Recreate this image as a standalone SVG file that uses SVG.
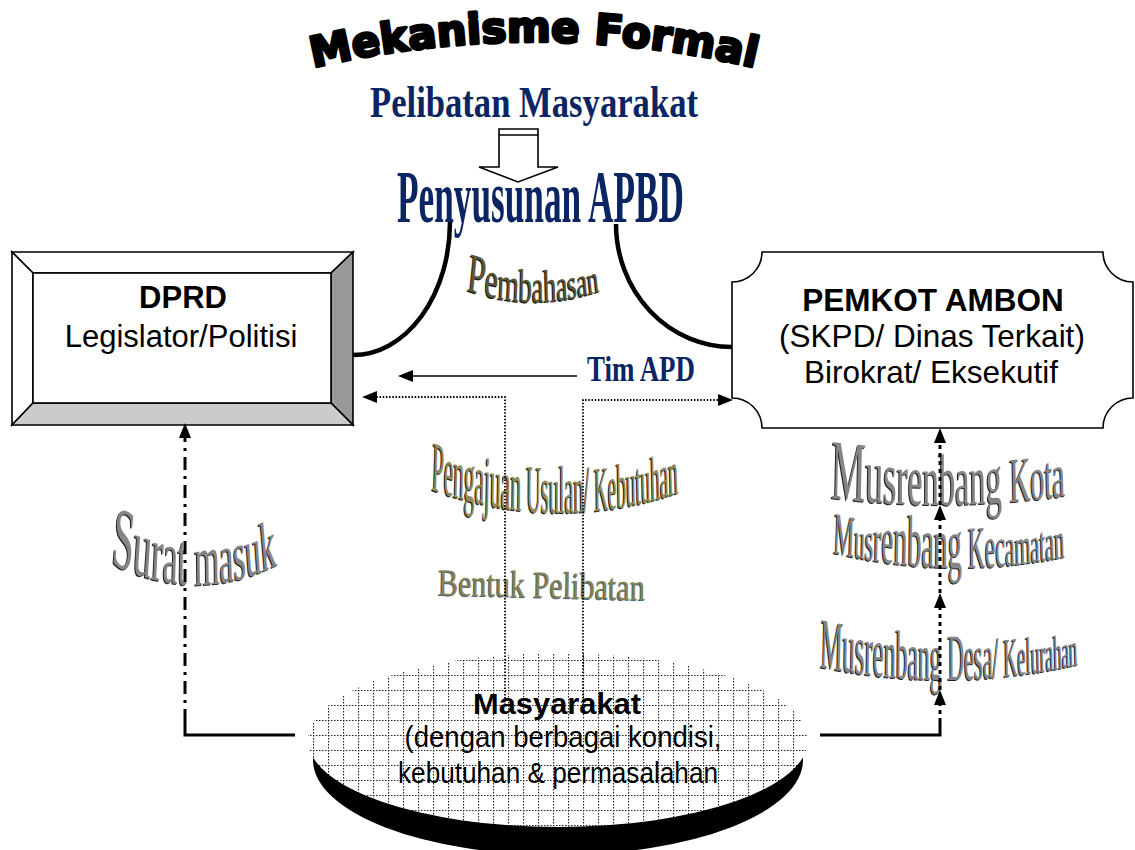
<svg xmlns="http://www.w3.org/2000/svg" width="1135" height="850" viewBox="0 0 1135 850">
  <style>
    .sans{font-family:"Liberation Sans",Arial,sans-serif;fill:#000}
    .navy{font-family:"Liberation Serif","Times New Roman",serif;font-weight:bold;fill:#0b2563}
    .wa{font-family:"Liberation Serif","Times New Roman",serif}
    .title{font-family:"DejaVu Sans",sans-serif;font-weight:bold;font-size:42px;fill:#000;stroke:#000;stroke-width:3;stroke-linejoin:round}
    .edge{stroke:#000;stroke-width:1.6;stroke-linejoin:miter}
    .thin{fill:none;stroke:#000;stroke-width:1.6}
    .dot{fill:none;stroke:#000;stroke-width:1.8;stroke-dasharray:1.5 1.7}
    .heavy{fill:none;stroke:#000;stroke-width:4.5}
    .solid3{fill:none;stroke:#000;stroke-width:3}
    .dashdot{fill:none;stroke:#000;stroke-width:3;stroke-dasharray:13 6 3 6}
    .sq{fill:none;stroke:#000;stroke-width:3;stroke-dasharray:4 4}
  </style>
  <defs>
    <marker id="tri" viewBox="0 0 15 12" refX="6" refY="6" markerWidth="15" markerHeight="12" markerUnits="userSpaceOnUse" orient="auto">
      <path d="M0 0 L15 6 L0 12 Z" fill="#000"/>
    </marker>
    <pattern id="grid" patternUnits="userSpaceOnUse" x="13" y="0" width="15" height="15">
      <rect width="15" height="15" fill="#fff"/>
      <path d="M0 0.5 H15 M0.5 0 V15" stroke="#222" stroke-width="1.2" stroke-dasharray="1.5 1.5"/>
    </pattern>

    <!-- baselines for the curved lettering (local coordinates) -->
    <path id="pTitle" d="M284 74.9 A966 966 0 0 1 784 74.9"/>
    <path id="pPemb" d="M-130 287.1 Q0 316.3 130 288.3"/>
    <path id="pPeng" d="M-455 485 Q0 539.2 455 488.7"/>
    <path id="pBent" d="M-150 594.5 Q0 597.5 150 600.5"/>
    <path id="pSurat" d="M-210 557.9 Q0 610.9 210 560.4"/>
    <path id="pKota" d="M-290 496.4 Q0 514.9 290 493.9"/>
    <path id="pKec" d="M-330 549.5 Q0 584.1 330 554.4"/>
    <path id="pDesa" d="M-410 664.2 Q0 697 410 661.8"/>

    <text id="tPemb" class="wa" text-anchor="middle"><textPath href="#pPemb" startOffset="50%"><tspan font-size="56">P</tspan><tspan font-size="52">e</tspan><tspan font-size="48">m</tspan><tspan font-size="47">b</tspan><tspan font-size="46">ah</tspan><tspan font-size="44">a</tspan><tspan font-size="43">s</tspan><tspan font-size="42">a</tspan><tspan font-size="40">n</tspan></textPath></text>
    <text id="tPeng" class="wa" text-anchor="middle"><textPath href="#pPeng" startOffset="50%"><tspan font-size="72">Pengajuan</tspan><tspan font-size="68"> Usulan/</tspan><tspan font-size="64"> Kebutuhan</tspan></textPath></text>
    <text id="tBent" class="wa" text-anchor="middle" font-size="38"><textPath href="#pBent" startOffset="50%">Bentuk Pelibatan</textPath></text>
    <text id="tSurat" class="wa" text-anchor="middle"><textPath href="#pSurat" startOffset="50%"><tspan font-size="88">S</tspan><tspan font-size="84">u</tspan><tspan font-size="80">r</tspan><tspan font-size="77">a</tspan><tspan font-size="75">t</tspan><tspan font-size="74"> </tspan><tspan font-size="73">m</tspan><tspan font-size="72">as</tspan><tspan font-size="71">u</tspan><tspan font-size="70">k</tspan></textPath></text>
    <text id="tKota" class="wa" text-anchor="middle"><textPath href="#pKota" startOffset="50%"><tspan font-size="86">M</tspan><tspan font-size="80">u</tspan><tspan font-size="77">s</tspan><tspan font-size="75">r</tspan><tspan font-size="74">e</tspan><tspan font-size="73">nb</tspan><tspan font-size="72">ang</tspan><tspan font-size="70"> </tspan><tspan font-size="64">K</tspan><tspan font-size="63">ota</tspan></textPath></text>
    <text id="tKec" class="wa" text-anchor="middle"><textPath href="#pKec" startOffset="50%"><tspan font-size="60">M</tspan><tspan font-size="54">u</tspan><tspan font-size="57">s</tspan><tspan font-size="63">r</tspan><tspan font-size="69">e</tspan><tspan font-size="72">n</tspan><tspan font-size="73">b</tspan><tspan font-size="72">ang</tspan><tspan font-size="66"> </tspan><tspan font-size="60">Ke</tspan><tspan font-size="57">c</tspan><tspan font-size="55">a</tspan><tspan font-size="53">m</tspan><tspan font-size="52">atan</tspan></textPath></text>
    <text id="tDesa" class="wa" text-anchor="middle"><textPath href="#pDesa" startOffset="50%"><tspan font-size="72">Musr</tspan><tspan font-size="71">e</tspan><tspan font-size="70">n</tspan><tspan font-size="69">ba</tspan><tspan font-size="68">ng</tspan><tspan font-size="67"> </tspan><tspan font-size="66">De</tspan><tspan font-size="65">s</tspan><tspan font-size="64">a</tspan><tspan font-size="60">/</tspan><tspan font-size="58"> </tspan><tspan font-size="56">K</tspan><tspan font-size="54">e</tspan><tspan font-size="53">l</tspan><tspan font-size="52">u</tspan><tspan font-size="51">r</tspan><tspan font-size="50">a</tspan><tspan font-size="49">h</tspan><tspan font-size="48">an</tspan></textPath></text>
  </defs>

  <rect width="1135" height="850" fill="#fff"/>

  <!-- headings -->
  <g id="title">
    <text class="title" text-anchor="middle"><textPath href="#pTitle" startOffset="50%">Mekanisme Formal</textPath></text>
  </g>
  <g id="node-pelibatan">
    <text class="navy" x="370" y="117" font-size="45" textLength="328" lengthAdjust="spacingAndGlyphs">Pelibatan Masyarakat</text>
  </g>
  <g id="node-apbd">
    <text class="navy" x="397" y="222" font-size="73" textLength="287" lengthAdjust="spacingAndGlyphs">Penyusunan APBD</text>
  </g>

  <!-- curved lettering beside the links -->
  <g id="labels">
    <use href="#tPemb" transform="translate(532,1.2) scale(0.574,1)" fill="#1c1a10"/>
    <use href="#tPemb" transform="translate(533,0) scale(0.574,1)" fill="#5d5636"/>
    <use href="#tPeng" transform="translate(554,1) scale(0.30,1)" fill="#1a1a1a"/>
    <use href="#tPeng" transform="translate(555,0) scale(0.30,1)" fill="#938a58"/>
    <use href="#tBent" transform="translate(540.5,1) scale(0.794,1)" fill="#3f6a7a"/>
    <use href="#tBent" transform="translate(541.5,0) scale(0.794,1)" fill="#8a8152"/>
    <use href="#tSurat" transform="translate(193,1) scale(0.444,1)" fill="#222"/>
    <use href="#tSurat" transform="translate(194,0) scale(0.444,1)" fill="#858585"/>
    <use href="#tKota" transform="translate(947,1) scale(0.450,1)" fill="#222"/>
    <use href="#tKota" transform="translate(948,0) scale(0.450,1)" fill="#858585"/>
    <use href="#tKec" transform="translate(948,1) scale(0.390,1)" fill="#222"/>
    <use href="#tKec" transform="translate(949,0) scale(0.390,1)" fill="#858585"/>
    <use href="#tDesa" transform="translate(948,1) scale(0.3466,1)" fill="#222"/>
    <use href="#tDesa" transform="translate(949,0) scale(0.3466,1)" fill="#858585"/>
    <text class="navy" x="587" y="381" font-size="35" textLength="108" lengthAdjust="spacingAndGlyphs">Tim APD</text>
  </g>

  <!-- DPRD: bevelled box -->
  <g id="node-dprd">
    <path class="edge" d="M12 252 H353 L331 273 H33 Z" fill="#fff"/>
    <path class="edge" d="M12 252 L33 273 V403 L12 425 Z" fill="#fff"/>
    <path class="edge" d="M353 252 V425 L331 403 V273 Z" fill="#999"/>
    <path class="edge" d="M12 425 H353 L331 403 H33 Z" fill="#cbcbcb"/>
    <rect class="edge" x="33" y="273" width="298" height="130" fill="#fff"/>
    <text class="sans" x="183" y="308" font-size="31" font-weight="bold" text-anchor="middle">DPRD</text>
    <text class="sans" x="181" y="347" font-size="31" text-anchor="middle">Legislator/Politisi</text>
  </g>

  <!-- PEMKOT: plaque with concave corners -->
  <g id="node-pemkot">
    <path class="edge" fill="#fff" d="M762 252 H1103 A30 30 0 0 0 1133 282 V398 A30 30 0 0 0 1103 428 H762 A30 30 0 0 0 732 398 V282 A30 30 0 0 0 762 252 Z"/>
    <text class="sans" x="933" y="311" font-size="31.5" font-weight="bold" text-anchor="middle">PEMKOT AMBON</text>
    <text class="sans" x="932" y="347" font-size="31.5" text-anchor="middle">(SKPD/ Dinas Terkait)</text>
    <text class="sans" x="931" y="383" font-size="31.5" text-anchor="middle">Birokrat/ Eksekutif</text>
  </g>

  <!-- Masyarakat: gridded disc -->
  <g id="node-masyarakat">
    <ellipse cx="558" cy="760" rx="245" ry="95" fill="#000"/>
    <ellipse cx="558" cy="740" rx="250" ry="87" fill="url(#grid)"/>
    <text class="sans" x="557" y="714" font-size="30" font-weight="bold" text-anchor="middle" textLength="168" lengthAdjust="spacingAndGlyphs">Masyarakat</text>
    <text class="sans" x="563" y="747" font-size="29" text-anchor="middle" textLength="317" lengthAdjust="spacingAndGlyphs">(dengan berbagai kondisi,</text>
    <text class="sans" x="558" y="783" font-size="29" text-anchor="middle" textLength="320" lengthAdjust="spacingAndGlyphs">kebutuhan &amp; permasalahan</text>
  </g>

  <g id="connectors">
    <!-- Pelibatan -> Penyusunan: hollow block arrow -->
    <path class="thin" fill="#fff" d="M499 129 H538 V167 H558 L518 182 L479 167 H499 Z"/>
    <path class="thin" d="M499 135 H538"/>
    <!-- Pembahasan arcs -->
    <path class="heavy" d="M353 355 A97 133 0 0 0 450 222"/>
    <path class="heavy" d="M616 224 A116 123 0 0 0 732 347"/>
    <!-- Tim APD -->
    <path class="thin" d="M577 376 H407" marker-end="url(#tri)"/>
    <!-- Bentuk Pelibatan branches -->
    <path class="dot" d="M505 705 V397 H371" marker-end="url(#tri)"/>
    <path class="dot" d="M583 705 V400 H724" marker-end="url(#tri)"/>
    <!-- Surat masuk -->
    <path class="solid3" d="M295 735 H185 V722"/>
    <path class="dashdot" d="M185 722 V432" marker-end="url(#tri)"/>
    <!-- Musrenbang chain -->
    <path class="solid3" d="M820 735 H940 V722"/>
    <path class="sq" d="M940 722 V699" marker-end="url(#tri)"/>
    <path class="sq" d="M940 690 V602" marker-end="url(#tri)"/>
    <path class="sq" d="M940 593 V514" marker-end="url(#tri)"/>
    <path class="sq" d="M940 505 V437" marker-end="url(#tri)"/>
  </g>
</svg>
